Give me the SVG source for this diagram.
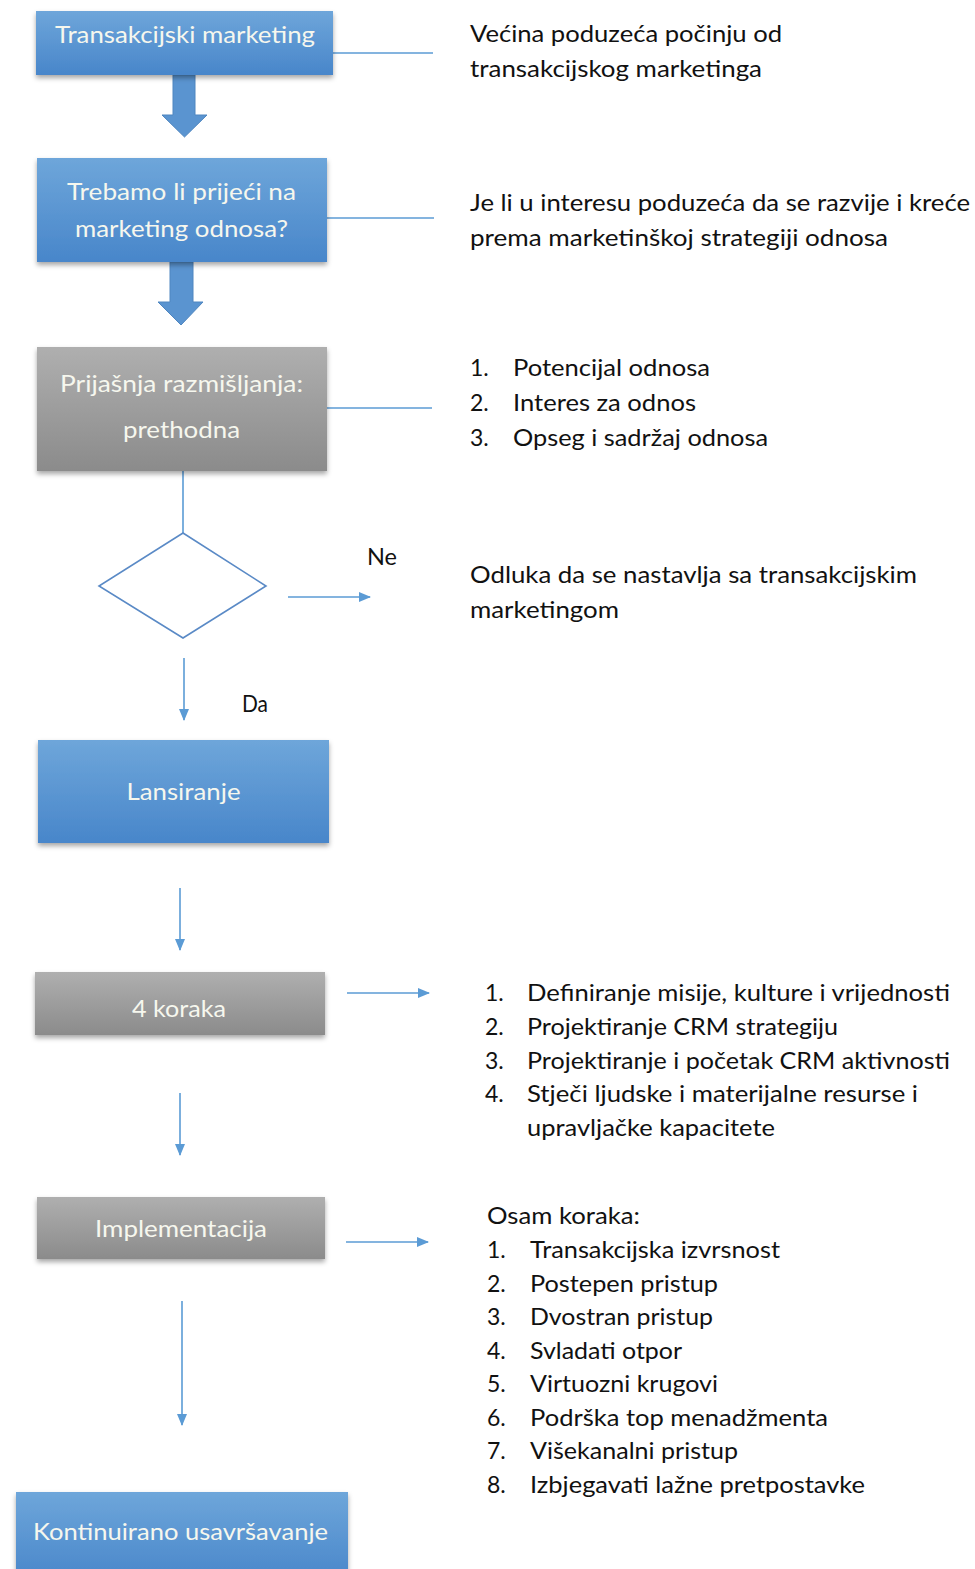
<svg xmlns="http://www.w3.org/2000/svg" width="975" height="1569" viewBox="0 0 975 1569">
<style>
.bt{font-family:Lato,"Open Sans","Liberation Sans",sans-serif;font-size:23px;fill:#f6f7ee;text-anchor:middle}
.rt{font-family:Lato,"Open Sans","Liberation Sans",sans-serif;font-size:23px;fill:#111}
.ln{stroke:#5b9bd5;stroke-width:1.6;fill:none}
.ar{stroke:#5b9bd5;stroke-width:1.6;fill:none;marker-end:url(#ah)}
.blue{fill:url(#gb);filter:url(#sh)}
.gray{fill:url(#gg);filter:url(#sh)}
.barrow{fill:#5a94d0;stroke:#4f86c0;stroke-width:1}
</style>
<defs>
<linearGradient id="gb" x1="0" y1="0" x2="0" y2="1"><stop offset="0" stop-color="#6ea6da"/><stop offset="1" stop-color="#4886ca"/></linearGradient>
<linearGradient id="gg" x1="0" y1="0" x2="0" y2="1"><stop offset="0" stop-color="#afafaf"/><stop offset="1" stop-color="#8b8b8b"/></linearGradient>
<filter id="sh" x="-10%" y="-20%" width="120%" height="150%"><feDropShadow dx="0" dy="3" stdDeviation="2.5" flood-color="#000" flood-opacity="0.35"/></filter>
<marker id="ah" viewBox="0 0 12 12" refX="11" refY="6" markerWidth="12" markerHeight="12" markerUnits="userSpaceOnUse" orient="auto"><path d="M0,1 L12,6 L0,11 Z" fill="#5b9bd5"/></marker>
</defs>
<rect width="975" height="1569" fill="#fff"/>

<g id="connectors">
<polygon class="barrow" points="173,75 195,75 195,115 207,115 184.5,137 162,115 173,115"/>
<polygon class="barrow" points="170,262 193,262 193,302 203,302 181,325 158,302 170,302"/>
<line class="ln" x1="333" y1="53" x2="433" y2="53"/>
<line class="ln" x1="327" y1="218" x2="434" y2="218"/>
<line class="ln" x1="327" y1="408" x2="432" y2="408"/>
<line class="ln" x1="183" y1="471" x2="183" y2="533"/>
<line class="ar" x1="288" y1="597" x2="370" y2="597"/>
<line class="ar" x1="184" y1="658" x2="184" y2="720"/>
<line class="ar" x1="180" y1="888" x2="180" y2="950"/>
<line class="ar" x1="347" y1="993" x2="429" y2="993"/>
<line class="ar" x1="180" y1="1093" x2="180" y2="1155"/>
<line class="ar" x1="346" y1="1242" x2="428" y2="1242"/>
<line class="ar" x1="182" y1="1301" x2="182" y2="1425"/>
</g>

<g id="n1"><rect class="blue" x="36" y="11" width="297" height="64"/><text class="bt" x="185" y="43" textLength="260" lengthAdjust="spacingAndGlyphs">Transakcijski marketing</text></g>
<g id="n2"><rect class="blue" x="37" y="158" width="290" height="104"/><text class="bt" x="181.5" y="200" textLength="229" lengthAdjust="spacingAndGlyphs">Trebamo li prijeći na</text><text class="bt" x="181.5" y="237" textLength="213" lengthAdjust="spacingAndGlyphs">marketing odnosa?</text></g>
<g id="n3"><rect class="gray" x="37" y="347" width="290" height="124"/><text class="bt" x="181.5" y="392" textLength="243" lengthAdjust="spacingAndGlyphs">Prijašnja razmišljanja:</text><text class="bt" x="181.5" y="438" textLength="117" lengthAdjust="spacingAndGlyphs">prethodna</text></g>
<g id="n4"><polygon points="183,533 266,586 183,638 99,586" fill="#fff" stroke="#5a8ac6" stroke-width="1.6"/></g>
<g id="n5"><rect class="blue" x="38" y="740" width="291" height="103"/><text class="bt" x="183.5" y="800" textLength="114" lengthAdjust="spacingAndGlyphs">Lansiranje</text></g>
<g id="n6"><rect class="gray" x="35" y="972" width="290" height="63"/><text class="bt" x="179" y="1017" textLength="94" lengthAdjust="spacingAndGlyphs">4 koraka</text></g>
<g id="n7"><rect class="gray" x="37" y="1197" width="288" height="62"/><text class="bt" x="181" y="1237" textLength="172" lengthAdjust="spacingAndGlyphs">Implementacija</text></g>
<g id="n8"><rect class="blue" x="16" y="1492" width="332" height="90"/><text class="bt" x="180.5" y="1540" textLength="295" lengthAdjust="spacingAndGlyphs">Kontinuirano usavršavanje</text></g>

<g id="labels">
<text class="rt" x="367" y="565" textLength="30" lengthAdjust="spacingAndGlyphs">Ne</text>
<text class="rt" x="242" y="712" textLength="26" lengthAdjust="spacingAndGlyphs">Da</text>
</g>

<g id="t1">
<text class="rt" x="470" y="42" textLength="312" lengthAdjust="spacingAndGlyphs">Većina poduzeća počinju od</text>
<text class="rt" x="470" y="77" textLength="292" lengthAdjust="spacingAndGlyphs">transakcijskog marketinga</text>
</g>
<g id="t2">
<text class="rt" x="470" y="211" textLength="500" lengthAdjust="spacingAndGlyphs">Je li u interesu poduzeća da se razvije i kreće</text>
<text class="rt" x="470" y="246" textLength="418" lengthAdjust="spacingAndGlyphs">prema marketinškoj strategiji odnosa</text>
</g>
<g id="t3">
<text class="rt" x="470" y="376">1.</text><text class="rt" x="513" y="376" textLength="197" lengthAdjust="spacingAndGlyphs">Potencijal odnosa</text>
<text class="rt" x="470" y="411">2.</text><text class="rt" x="513" y="411" textLength="183" lengthAdjust="spacingAndGlyphs">Interes za odnos</text>
<text class="rt" x="470" y="446">3.</text><text class="rt" x="513" y="446" textLength="255" lengthAdjust="spacingAndGlyphs">Opseg i sadržaj odnosa</text>
</g>
<g id="t4">
<text class="rt" x="470" y="583" textLength="447" lengthAdjust="spacingAndGlyphs">Odluka da se nastavlja sa transakcijskim</text>
<text class="rt" x="470" y="618" textLength="149" lengthAdjust="spacingAndGlyphs">marketingom</text>
</g>
<g id="t5">
<text class="rt" x="485" y="1001">1.</text><text class="rt" x="527" y="1001" textLength="423" lengthAdjust="spacingAndGlyphs">Definiranje misije, kulture i vrijednosti</text>
<text class="rt" x="485" y="1035">2.</text><text class="rt" x="527" y="1035" textLength="311" lengthAdjust="spacingAndGlyphs">Projektiranje CRM strategiju</text>
<text class="rt" x="485" y="1069">3.</text><text class="rt" x="527" y="1069" textLength="423" lengthAdjust="spacingAndGlyphs">Projektiranje i početak CRM aktivnosti</text>
<text class="rt" x="485" y="1102">4.</text><text class="rt" x="527" y="1102" textLength="391" lengthAdjust="spacingAndGlyphs">Stječi ljudske i materijalne resurse i</text>
<text class="rt" x="527" y="1136" textLength="248" lengthAdjust="spacingAndGlyphs">upravljačke kapacitete</text>
</g>
<g id="t6">
<text class="rt" x="487" y="1224" textLength="153" lengthAdjust="spacingAndGlyphs">Osam koraka:</text>
<text class="rt" x="487" y="1258">1.</text><text class="rt" x="530" y="1258" textLength="250" lengthAdjust="spacingAndGlyphs">Transakcijska izvrsnost</text>
<text class="rt" x="487" y="1292">2.</text><text class="rt" x="530" y="1292" textLength="188" lengthAdjust="spacingAndGlyphs">Postepen pristup</text>
<text class="rt" x="487" y="1325">3.</text><text class="rt" x="530" y="1325" textLength="183" lengthAdjust="spacingAndGlyphs">Dvostran pristup</text>
<text class="rt" x="487" y="1359">4.</text><text class="rt" x="530" y="1359" textLength="152" lengthAdjust="spacingAndGlyphs">Svladati otpor</text>
<text class="rt" x="487" y="1392">5.</text><text class="rt" x="530" y="1392" textLength="188" lengthAdjust="spacingAndGlyphs">Virtuozni krugovi</text>
<text class="rt" x="487" y="1426">6.</text><text class="rt" x="530" y="1426" textLength="298" lengthAdjust="spacingAndGlyphs">Podrška top menadžmenta</text>
<text class="rt" x="487" y="1459">7.</text><text class="rt" x="530" y="1459" textLength="208" lengthAdjust="spacingAndGlyphs">Višekanalni pristup</text>
<text class="rt" x="487" y="1493">8.</text><text class="rt" x="530" y="1493" textLength="335" lengthAdjust="spacingAndGlyphs">Izbjegavati lažne pretpostavke</text>
</g>
</svg>
